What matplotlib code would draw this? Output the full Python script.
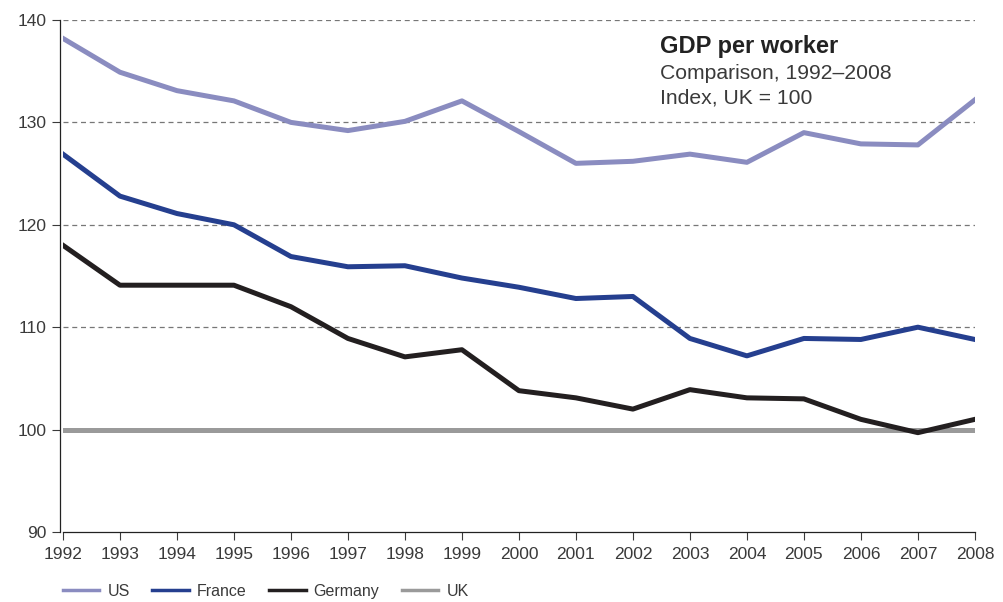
import matplotlib.pyplot as plt
import numpy as np

plt.rcParams['font.family'] = ['Liberation Sans', 'DejaVu Sans']

years = np.arange(1992, 2009)
us = [138.2, 134.9, 133.1, 132.1, 130.0, 129.2, 130.1, 132.1, 129.1, 126.0,
      126.2, 126.9, 126.1, 129.0, 127.9, 127.8, 132.2]
france = [126.9, 122.8, 121.1, 120.0, 116.9, 115.9, 116.0, 114.8, 113.9, 112.8,
          113.0, 108.9, 107.2, 108.9, 108.8, 110.0, 108.8]
germany = [118.0, 114.1, 114.1, 114.1, 112.0, 108.9, 107.1, 107.8, 103.8, 103.1,
           102.0, 103.9, 103.1, 103.0, 101.0, 99.7, 101.0]
uk = [100] * len(years)

fig = plt.figure(figsize=(10.04, 6.02), dpi=100)
ax = fig.add_axes([0.0627, 0.1163, 0.9083, 0.8505])

for v in [110, 120, 130, 140]:
    ax.axhline(v, color='#777777', lw=0.9, ls=(0, (4, 3)), zorder=1)

ax.plot(years, uk, color='#9a9a9a', lw=3.6, label='UK', zorder=2)
ax.plot(years, us, color='#8a8cc0', lw=3.6, label='US', zorder=3)
ax.plot(years, france, color='#253f8f', lw=3.6, label='France', zorder=3)
ax.plot(years, germany, color='#231f20', lw=3.6, label='Germany', zorder=3)

ax.set_xlim(1992, 2008)
ax.set_ylim(90, 140)
ax.set_xticks(years)
ax.set_yticks([90, 100, 110, 120, 130, 140])
ax.tick_params(labelsize=12.5, colors='#3a3a3a', length=6, width=0.8, direction='out')
ax.tick_params(axis='x', pad=5)
for s in ['top', 'right']:
    ax.spines[s].set_visible(False)
for s in ['left', 'bottom']:
    ax.spines[s].set_linewidth(0.9)
    ax.spines[s].set_color('#222222')
ax.spines['left'].set_position(('data', 1991.95))

fig.text(0.657, 1 - 53 / 602, 'GDP per worker', fontsize=17,
         fontweight='bold', color='#222222', va='baseline')
fig.text(0.657, 1 - 79 / 602, 'Comparison, 1992\u20132008', fontsize=15.2,
         color='#3a3a3a', va='baseline')
fig.text(0.657, 1 - 104 / 602, 'Index, UK = 100', fontsize=15.2,
         color='#3a3a3a', va='baseline')

h, l = ax.get_legend_handles_labels()
order = [1, 2, 3, 0]
leg = fig.legend([h[i] for i in order], [l[i] for i in order], ncol=4,
                 loc='lower left', bbox_to_anchor=(0.048, -0.019), frameon=False,
                 fontsize=11.5, handlelength=2.3, columnspacing=1.4, handletextpad=0.5)
for ln in leg.get_lines():
    ln.set_linewidth(2.5)
for t in leg.get_texts():
    t.set_color('#3a3a3a')

fig.savefig('out.png', dpi=100)
